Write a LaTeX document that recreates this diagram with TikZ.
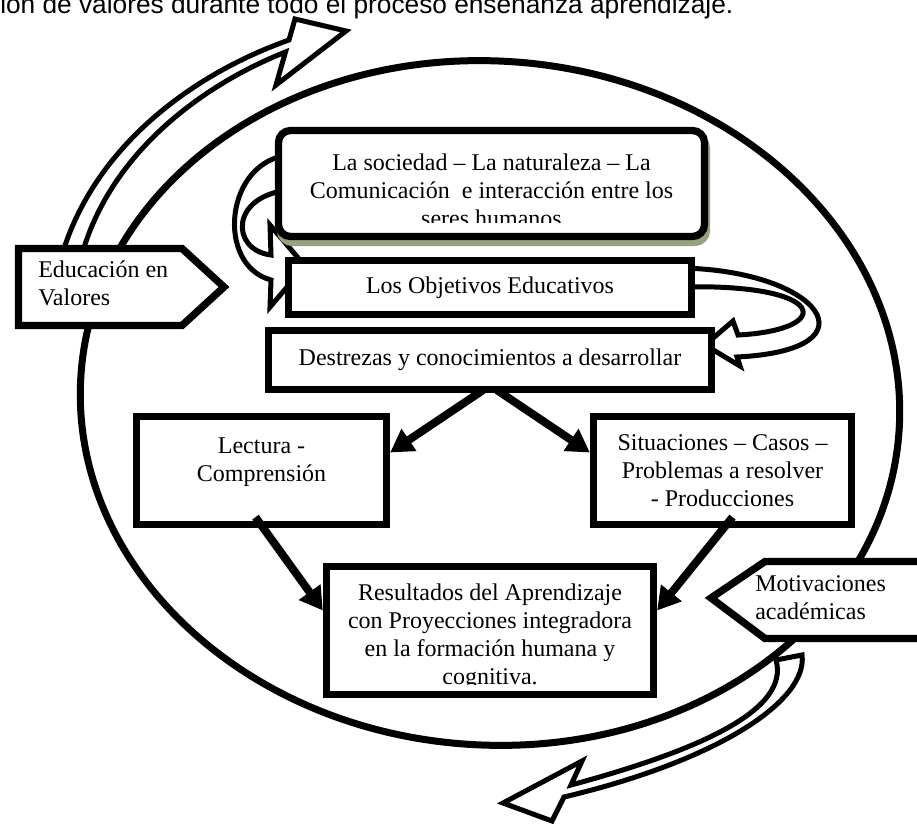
\documentclass[tikz,border=0pt]{standalone}
\usepackage{fontspec}
\setmainfont{Liberation Serif}
\newfontfamily\arialfont{Liberation Sans}
\usepackage{tikz}
\usepackage{xcolor}
\usetikzlibrary{positioning,arrows.meta,calc,shadows}
\definecolor{shadowgreen}{RGB}{150,162,128}

\begin{document}
\begin{tikzpicture}[
      x=0.75pt, y=-0.75pt,
      box/.style={draw, line width=5.5pt, fill=white, align=center, inner sep=0pt, font=\fontsize{18}{21}\selectfont},
      roundbox/.style={box, rounded corners=9pt, drop shadow={shadow xshift=1.5pt, shadow yshift=-4.5pt, fill=shadowgreen, draw=shadowgreen, opacity=1}},
      txt/.style={align=center, inner sep=0pt, font=\fontsize{18}{21}\selectfont},
      tagshape/.style={draw, line width=5.5pt, fill=white, line join=miter},
      band/.style={draw, line width=3.75pt, fill=white, line join=miter, miter limit=4},
      ring/.style={draw, line width=5.25pt},
      arr/.style={-{Triangle[length=17pt, width=19pt]}, line width=6pt}
  ]
    \useasboundingbox (0,0) rectangle (917,827);
    \clip (0,0) rectangle (917,827);

    \node[anchor=base west, inner sep=0pt, font=\arialfont\fontsize{19.7}{24}\selectfont] (title) at (0,14) {ión de valores durante todo el proceso enseñanza aprendizaje.};

    \draw[ring, rotate around={-4:(490,403)}] (490,403) ellipse [x radius=410, y radius=342];

    % curved block arrows
    \draw[band] (60,262) .. controls (90,150) and (190,75) .. (289,40) -- (295,19) -- (346,31) -- (276,85) -- (285.5,52) .. controls (195,88) and (105,160) .. (80,262) -- cycle;
    \draw[band] (290,155) .. controls (225,160) and (215,265) .. (271,280) -- (270,307) -- (305,266) -- (270,225) -- (271,255) .. controls (230,250) and (230,195) .. (290,190) -- cycle;
    \draw[band] (680,268) .. controls (820,270) and (880,350) .. (737,357) -- (740,366) -- (705,345) -- (733,321) -- (738,335) .. controls (835,330) and (830,283) .. (680,287) -- cycle;
    \draw[band] (776,660) -- (802,655) .. controls (808,700) and (720,760) .. (564,797) -- (552,821) -- (503,803) -- (582,761) -- (571,785) .. controls (700,750) and (790,710) .. (776,660) -- cycle;

    \node[roundbox, minimum width=319.5pt, minimum height=79.5pt] (soc) at (491.5,183.5) {};
    \begin{scope}
      \clip (282,135) rectangle (701,223);
      \node[txt, anchor=north] (soctext) at (491.5,153.6) {La sociedad – La naturaleza – La\\Comunicación~ e interacción entre los\\seres humanos};
    \end{scope}

    \node[box, minimum width=302.25pt, minimum height=40.5pt] (obj) at (490,287.5) {Los Objetivos Educativos};
    \node[box, minimum width=332.25pt, minimum height=44.25pt] (dest) at (490,360) {Destrezas y conocimientos a desarrollar};
    \node[box, minimum width=187.5pt, minimum height=81pt] (lec) at (261.5,470.5) {Lectura -\\Comprensión\rule[-16pt]{0pt}{16pt}};
    \node[box, minimum width=193.5pt, minimum height=81pt] (sit) at (722.5,470.5) {Situaciones – Casos –\\Problemas a resolver\\- Producciones};

    \node[box, minimum width=245.25pt, minimum height=96pt] (res) at (490,630.5) {};
    \begin{scope}
      \clip (330,570) rectangle (650,684);
      \node[txt, anchor=north] (restext) at (490,583.6) {Resultados del Aprendizaje\\con Proyecciones integradora\\en la formación humana y\\cognitiva.};
    \end{scope}

    \draw[tagshape] (18.5,248.5) -- (182,248.5) -- (224,287) -- (182,325.5) -- (18.5,325.5) -- cycle;
    \node[txt, align=left, anchor=north west] (edu) at (38,260.5) {Educación en\\Valores};
    \draw[tagshape] (711,598) -- (765,561.5) -- (930,561.5) -- (930,638.5) -- (765,638.5) -- cycle;
    \node[txt, align=left, anchor=north west] (moti) at (755,575.6) {Motivaciones\\académicas};

    \draw[arr] ($(dest.south)+(-7,-3)$) -- ($(lec.east)+(0,-18)$);
    \draw[arr] ($(dest.south)+(7,-3)$) -- ($(sit.west)+(0,-18)$);
    \draw[arr] ($(lec.south)+(-6,-11)$) -- ($(res.west)+(0,-20)$);
    \draw[arr] ($(sit.south)+(10,-11)$) -- ($(res.east)+(0,-20)$);
  \end{tikzpicture}
\end{document}
